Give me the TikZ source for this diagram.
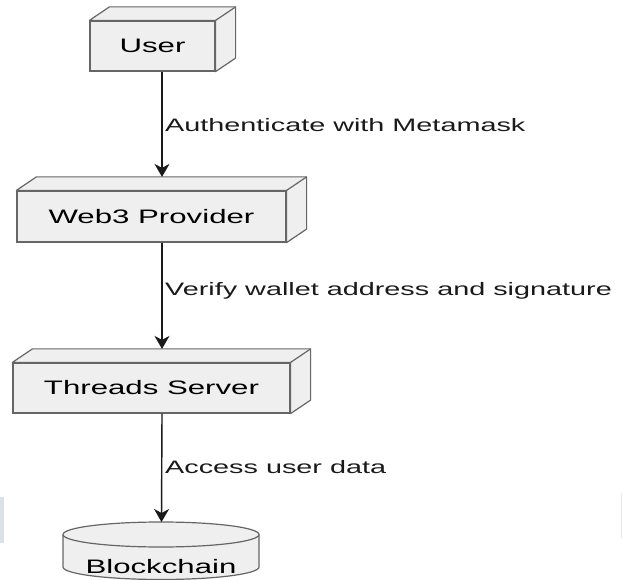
\documentclass[tikz,border=0pt]{standalone}
\usepackage{fontspec}
\setmainfont{Liberation Sans}[FakeStretch=1.6]
\usetikzlibrary{arrows.meta,calc}
\definecolor{boxfill}{HTML}{EFEFEF}
\definecolor{boxline}{HTML}{666666}
\definecolor{arrowcol}{HTML}{1A1A1A}
\definecolor{edgeA}{HTML}{DCE3E8}
\definecolor{edgeB}{HTML}{E4E7EA}
\tikzset{
  frontbox/.style={draw=boxline, fill=boxfill, line width=1.2pt, rectangle,
    inner sep=0pt, text height=14pt, text depth=0pt,
    font=\fontsize{19.5}{23}\selectfont},
  facestyle/.style={draw=boxline, fill=boxfill, line width=1.2pt, line join=round},
  flowarrow/.style={draw=arrowcol, line width=1.4pt,
    -{Stealth[length=13pt,width=15pt,inset=4pt]}},
  flowlabel/.style={anchor=base west, inner sep=0pt, text=arrowcol,
    font=\fontsize{18}{21}\selectfont},
}
\newcommand\depthfaces[1]{%
  \path[facestyle] (#1.north west) -- ($(#1.north west)+(20,-13.5)$)
     -- ($(#1.north east)+(20,-13.5)$) -- ($(#1.south east)+(20,-13.5)$)
     -- (#1.south east) -- (#1.north east) -- cycle;
  \draw[boxline, line width=1.2pt] (#1.north east) -- ($(#1.north east)+(20,-13.5)$);
}
\begin{document}
\begin{tikzpicture}[x=1pt, y=-1pt]
\useasboundingbox (0,0) rectangle (622,580);
\fill[white] (0,0) rectangle (622,580);
\fill[edgeA] (0,497) rectangle (4,543);
\fill[edgeB] (620.5,493) rectangle (622,538);

\coordinate (axis) at (162,0);

% boxes
\node[frontbox, minimum width=125pt, minimum height=50pt] (user) at (152.5,46) {User};
\depthfaces{user}
\node[frontbox, minimum width=269pt, minimum height=51pt] (web3) at (151.5,216.5) {Web3 Provider};
\depthfaces{web3}
\node[frontbox, minimum width=277pt, minimum height=50pt] (threads) at (151.5,388) {Threads Server};
\depthfaces{threads}

% cylinder
\path[fill=boxfill] (63,534.5) -- (63,567)
   arc[start angle=180, end angle=360, x radius=98pt, y radius=12.5pt]
   -- (259,534.5) -- cycle;
\draw[boxline, line width=1.2pt] (63,534.5) -- (63,567)
   arc[start angle=180, end angle=360, x radius=98pt, y radius=12.5pt]
   -- (259,534.5);
\draw[boxline, fill=boxfill, line width=1.2pt] (161,534.5) ellipse[x radius=98pt, y radius=12.5pt];
\coordinate (chaintop) at (161.5,522);
\node[anchor=base, inner sep=0pt, font=\fontsize{19.5}{23}\selectfont] (chain) at (161,573) {Blockchain};

% connectors
\coordinate (web3in) at ($(web3.north -| axis)+(0,-13.5)$);
\coordinate (threadsin) at ($(threads.north -| axis)+(0,-13.5)$);
\draw[flowarrow] (user.south -| axis) -- (web3in);
\draw[flowarrow] (web3.south -| axis) -- (threadsin);
\draw[flowarrow] (threads.south -| axis) -- (chaintop);

% labels
\node[flowlabel] (l1) at (165,132) {Authenticate with Metamask};
\node[flowlabel] (l2) at (165,296) {Verify wallet address and signature};
\node[flowlabel] (l3) at (165,473) {Access user data};
\end{tikzpicture}
\end{document}
